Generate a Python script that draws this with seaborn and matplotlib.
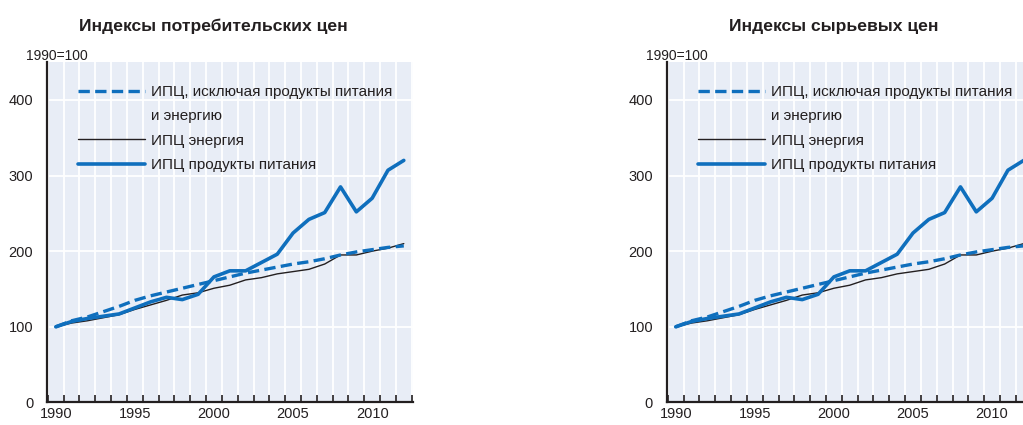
import numpy as np
import pandas as pd
import matplotlib
matplotlib.use('Agg')
import matplotlib.pyplot as plt
import seaborn as sns
from matplotlib.ticker import MultipleLocator
from matplotlib.lines import Line2D

years = list(range(1990, 2013))
ipc_core = [100, 108, 113, 120, 127, 135, 141, 146, 151, 156, 161, 166, 171,
            175, 179, 183, 186, 190, 195, 199, 202, 205, 207]
ipc_energy = [100, 105, 108, 112, 116, 123, 129, 135, 142, 145, 151, 155, 162,
              165, 170, 173, 176, 183, 195, 195, 200, 204, 210]
ipc_food = [100, 107, 111, 114, 117, 125, 133, 139, 136, 143, 166, 174, 174,
            185, 196, 224, 242, 251, 285, 252, 270, 307, 320]

titles = ['Индексы потребительских цен', 'Индексы сырьевых цен']
labels = ['ИПЦ, исключая продукты питания\nи энергию', 'ИПЦ энергия', 'ИПЦ продукты питания']
ylabel = '1990=100'

sns.set_theme(style='white')
plt.rcParams['font.family'] = ['Liberation Sans', 'DejaVu Sans']

blue = '#0f6fbd'
dark = '#231f20'
bg = '#e8edf6'

datos = pd.DataFrame({'year': years, 'core': ipc_core,
                      'energy': ipc_energy, 'food': ipc_food})

fig = plt.figure(figsize=(10.23, 4.25), dpi=100)

for i, titulo in enumerate(titles):
    left = 0.046 + i * 0.606
    ax = fig.add_axes([left, 0.053, 0.358, 0.801])
    ax.set_facecolor(bg)

    sns.lineplot(data=datos, x='year', y='core', ax=ax, color=blue, lw=2.4,
                 zorder=3)
    ax.lines[-1].set_dashes((3.4, 1.6))
    sns.lineplot(data=datos, x='year', y='energy', ax=ax, color=dark, lw=1.0,
                 zorder=2)
    sns.lineplot(data=datos, x='year', y='food', ax=ax, color=blue, lw=2.6,
                 zorder=4)

    ax.set_xlim(1989.45, 2012.6)
    ax.set_ylim(0, 450)
    ax.xaxis.set_major_locator(MultipleLocator(5))
    ax.xaxis.set_minor_locator(MultipleLocator(1, offset=0.5))
    ax.yaxis.set_major_locator(MultipleLocator(100))

    ax.grid(False)
    ax.grid(True, which='minor', axis='x', color='white', lw=1.3)
    ax.grid(True, which='major', axis='y', color='white', lw=1.3)
    ax.set_axisbelow(True)

    ax.tick_params(axis='x', which='major', length=0, labelsize=10.5,
                   labelcolor=dark, pad=3)
    ax.tick_params(axis='x', which='minor', direction='in', length=5,
                   width=1.2, color=dark, bottom=True)
    ax.tick_params(axis='y', length=0, labelsize=10.5, labelcolor=dark, pad=10)

    for s in ['top', 'right']:
        ax.spines[s].set_visible(False)
    for s in ['left', 'bottom']:
        ax.spines[s].set_color(dark)
        ax.spines[s].set_linewidth(1.6)

    ax.set_xlabel('')
    ax.set_ylabel('')

    # легенда: вторая строка первой подписи как отдельная запись без линии
    first, second = labels[0].split('\n')
    handles = [Line2D([], [], color=blue, lw=2.4, dashes=(3.4, 1.6)),
               Line2D([], [], color='none'),
               Line2D([], [], color=dark, lw=1.0),
               Line2D([], [], color=blue, lw=2.6)]
    leg = ax.legend(handles, [first, second, labels[1], labels[2]],
                    loc='upper left', bbox_to_anchor=(0.046, 0.973),
                    frameon=False, fontsize=11, handlelength=4.4,
                    handletextpad=0.4, labelspacing=0.68)
    for t in leg.get_texts():
        t.set_color(dark)

    fig.text(left + 0.163, 0.938, titulo, ha='center', va='center',
             fontsize=12.6, fontweight='bold', color=dark)
    fig.text(left - 0.021, 0.868, ylabel, ha='left', va='center',
             fontsize=10, color=dark)

plt.savefig('out.png', dpi=100)
